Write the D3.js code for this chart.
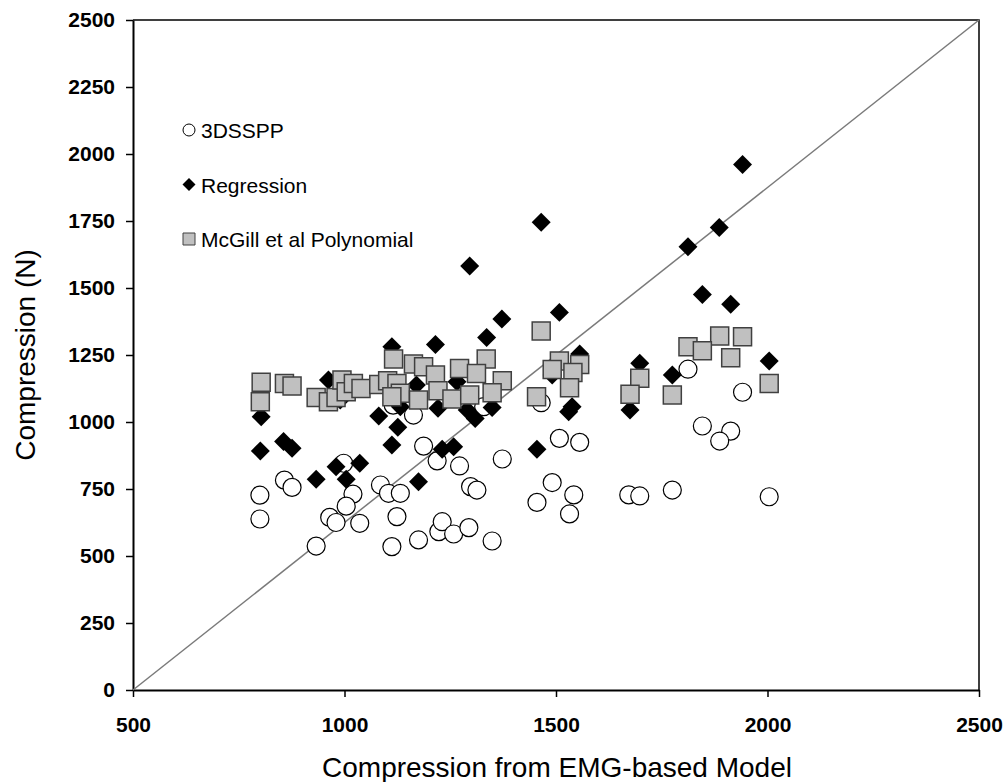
<!DOCTYPE html>
<html>
<head>
<meta charset="utf-8">
<script src="https://cdn.jsdelivr.net/npm/d3@7"></script>
<style>
  body { margin: 0; background: #fff; }
  svg { font-family: Arial, "Liberation Sans", sans-serif; }
</style>
</head>
<body>
<div id="chart"></div>
<script>
// Data: [EMG model compression, predicted compression]
var sssppData = [
  [800,727],[800,638],[858,783],[876,756],[998,846],[1020,731],[1004,686],[965,644],[980,625],
  [1036,622],[933,537],[1085,765],[1104,734],[1132,734],[1124,647],[1112,535],[1175,560],
  [1187,910],[1219,855],[1223,591],[1231,628],[1258,582],[1294,606],[1349,556],[1163,1026],
  [1115,1063],[1272,836],[1298,759],[1313,746],[1329,1057],[1373,862],[1465,1072],[1508,939],
  [1556,924],[1491,774],[1542,728],[1455,700],[1532,657],[1812,1197],[1941,1111],[1846,985],
  [1913,966],[1887,929],[1672,728],[1698,724],[1775,746],[2004,721]
];
var regressionData = [
  [803,1020],[801,892],[856,927],[876,902],[933,786],[980,833],[1004,786],[1036,846],[962,1157],
  [990,1082],[1081,1022],[1112,1281],[1126,980],[1112,914],[1175,777],[1215,1289],[1170,1138],
  [1132,1057],[1221,1051],[1465,1745],[1296,1582],[1508,1409],[1372,1384],[1336,1315],[1556,1254],
  [1491,1175],[1266,1150],[1309,1013],[1290,1045],[1349,1054],[1538,1057],[1530,1038],[1455,898],
  [1231,898],[1258,908],[1941,1961],[1886,1726],[1812,1654],[1846,1476],[1913,1439],[2004,1228],
  [1698,1219],[1775,1175],[1675,1045]
];
var mcgillData = [
  [803,1148],[801,1076],[858,1144],[876,1134],[933,1091],[962,1076],[980,1091],[994,1157],
  [1004,1113],[1021,1144],[1039,1125],[1081,1140],[1102,1154],[1116,1235],[1124,1144],[1132,1107],
  [1112,1094],[1163,1216],[1187,1206],[1175,1082],[1215,1175],[1221,1117],[1465,1340],[1335,1235],
  [1272,1200],[1312,1181],[1373,1154],[1254,1086],[1296,1101],[1349,1109],[1454,1094],[1508,1228],
  [1491,1196],[1556,1215],[1540,1185],[1532,1128],[1887,1321],[1941,1318],[1812,1281],[1846,1266],
  [1913,1240],[2004,1144],[1698,1163],[1675,1104],[1775,1101]
];
var xTicks = [500, 1000, 1500, 2000, 2500];
var yTicks = [0, 250, 500, 750, 1000, 1250, 1500, 1750, 2000, 2250, 2500];
var legendNames = ["3DSSPP", "Regression", "McGill et al Polynomial"];
var identityLine = [[500, 0], [2500, 2500]];

var margin = { top: 20, right: 28, bottom: 92, left: 133 },
    width = 1007 - margin.left - margin.right,
    height = 782 - margin.top - margin.bottom;

var svg = d3.select("#chart")
    .append("svg")
    .attr("width", 1007)
    .attr("height", 782);

var g = svg.append("g")
    .attr("transform", `translate(${margin.left},${margin.top})`);

var x = d3.scaleLinear().domain([500, 2500]).range([0, width]);
var y = d3.scaleLinear().domain([0, 2500]).range([height, 0]);

// frame (top + right)
g.append("path")
    .attr("d", `M0,0H${width}V${height}`)
    .attr("fill", "none")
    .attr("stroke", "#000")
    .attr("stroke-width", 1.5);

// axes
var xAxis = g.append("g")
    .attr("transform", `translate(0,${height})`)
    .call(d3.axisBottom(x).tickValues(xTicks).tickFormat(d3.format("d"))
        .tickSize(7).tickSizeOuter(0).tickPadding(20));
var yAxis = g.append("g")
    .call(d3.axisLeft(y).tickValues(yTicks).tickFormat(d3.format("d"))
        .tickSize(7).tickSizeOuter(0).tickPadding(11));

[xAxis, yAxis].forEach(function (a) {
    a.select(".domain").attr("stroke-width", 2);
    a.selectAll(".tick line").attr("stroke-width", 1.5);
    a.selectAll(".tick text")
        .style("font-size", "21px")
        .style("font-weight", "bold")
        .attr("fill", "#000");
});

// axis titles
svg.append("text")
    .attr("x", 557)
    .attr("y", 777)
    .attr("text-anchor", "middle")
    .style("font-size", "28px")
    .text("Compression from EMG-based Model");

svg.append("text")
    .attr("transform", "translate(35,355) rotate(-90)")
    .attr("text-anchor", "middle")
    .style("font-size", "28px")
    .text("Compression (N)");

// identity line
g.append("line")
    .attr("x1", x(identityLine[0][0])).attr("y1", y(identityLine[0][1]))
    .attr("x2", x(identityLine[1][0])).attr("y2", y(identityLine[1][1]))
    .attr("stroke", "#7a7a7a")
    .attr("stroke-width", 1.5);

var diamond = d3.symbol().type(d3.symbolSquare).size(180);
var square = d3.symbol().type(d3.symbolSquare).size(324);

// 3DSSPP circles
g.selectAll(".c3d")
    .data(sssppData)
    .enter()
    .append("circle")
    .attr("cx", d => x(d[0]))
    .attr("cy", d => y(d[1]))
    .attr("r", 9)
    .attr("fill", "#fff")
    .attr("stroke", "#000")
    .attr("stroke-width", 1.2);

// Regression diamonds
g.selectAll(".reg")
    .data(regressionData)
    .enter()
    .append("path")
    .attr("d", diamond)
    .attr("transform", d => `translate(${x(d[0])},${y(d[1])}) rotate(45)`)
    .attr("fill", "#000");

// McGill squares
g.selectAll(".mcg")
    .data(mcgillData)
    .enter()
    .append("path")
    .attr("d", square)
    .attr("transform", d => `translate(${x(d[0])},${y(d[1])})`)
    .attr("fill", "#c0c0c0")
    .attr("stroke", "#404040")
    .attr("stroke-width", 1.5);

// legend
var legend = svg.append("g").attr("transform", "translate(189,130)");
var rows = legend.selectAll("g")
    .data(legendNames)
    .enter()
    .append("g")
    .attr("transform", (d, i) => `translate(0,${i * 54.5})`);

rows.each(function (d, i) {
    var r = d3.select(this);
    if (i === 0) {
        r.append("circle").attr("r", 6).attr("fill", "#fff").attr("stroke", "#000").attr("stroke-width", 1);
    } else if (i === 1) {
        r.append("path").attr("d", d3.symbol().type(d3.symbolSquare).size(85)).attr("transform", "rotate(45)").attr("fill", "#000");
    } else {
        r.append("path").attr("d", d3.symbol().type(d3.symbolSquare).size(144)).attr("fill", "#c0c0c0").attr("stroke", "#404040").attr("stroke-width", 1);
    }
});

rows.append("text")
    .attr("x", 12)
    .attr("y", 8)
    .style("font-size", "21px")
    .text(d => d);
</script>
</body>
</html>
